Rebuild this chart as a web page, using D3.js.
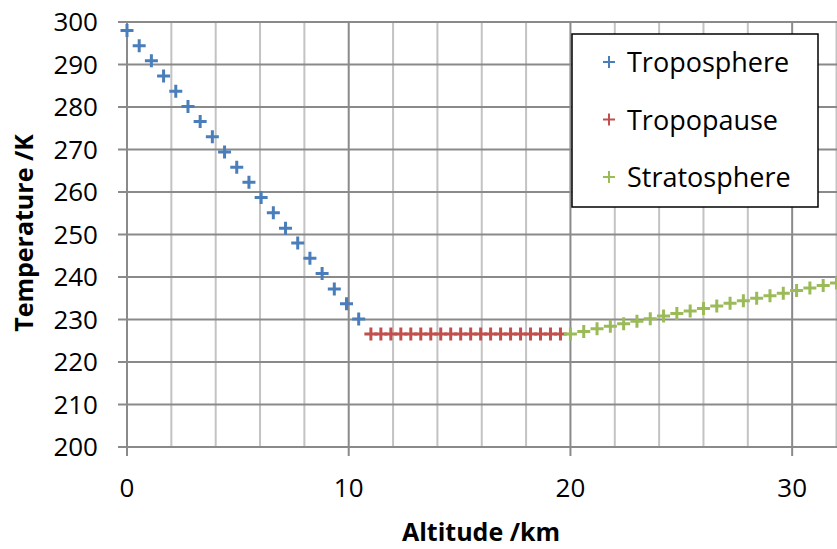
<!DOCTYPE html>
<html>
<head>
<meta charset="utf-8">
<script src="https://cdn.jsdelivr.net/npm/d3@7"></script>
<style>
body { margin: 0; background: white; }
text { font-family: "Open Sans", sans-serif; fill: #000; }
</style>
</head>
<body>
<svg id="chart" width="837" height="549"></svg>
<script>

var seriesNames = ["Troposphere", "Tropopause", "Stratosphere"];
var seriesColors = ["#4a7ebb", "#c0504d", "#9bbb59"];

// altitude in km, temperature in K
var tropoAlt = [0, 0.55, 1.1, 1.65, 2.2, 2.75, 3.3, 3.85, 4.4, 4.95,
                5.5, 6.05, 6.6, 7.15, 7.7, 8.25, 8.8, 9.35, 9.9, 10.45];
var tropoTemp = [298, 294.4, 290.9, 287.3, 283.7, 280.1, 276.6, 273, 269.4, 265.8,
                 262.3, 258.7, 255.1, 251.5, 248, 244.4, 240.8, 237.2, 233.7, 230.1];

var pauseAlt = [11, 11.45, 11.9, 12.35, 12.8, 13.25, 13.7, 14.15, 14.6, 15.05,
                15.5, 15.95, 16.4, 16.85, 17.3, 17.75, 18.2, 18.65, 19.1, 19.55];
var pauseTemp = [226.6, 226.6, 226.6, 226.6, 226.6, 226.6, 226.6, 226.6, 226.6, 226.6,
                 226.6, 226.6, 226.6, 226.6, 226.6, 226.6, 226.6, 226.6, 226.6, 226.6];

var stratoAlt = [20, 20.6, 21.2, 21.8, 22.4, 23, 23.6, 24.2, 24.8, 25.4, 26,
                 26.6, 27.2, 27.8, 28.4, 29, 29.6, 30.2, 30.8, 31.4, 32];
var stratoTemp = [226.6, 227.2, 227.8, 228.4, 229, 229.6, 230.2, 230.8, 231.4, 232, 232.6,
                  233.2, 233.8, 234.4, 235, 235.6, 236.2, 236.8, 237.4, 238, 238.6];

var xMajorTicks = [0, 10, 20, 30];
var xMinorTicks = [2, 4, 6, 8, 12, 14, 16, 18, 22, 24, 26, 28, 32];
var yTicks = [200, 210, 220, 230, 240, 250, 260, 270, 280, 290, 300];

var svg = d3.select("#chart");

var x = d3.scaleLinear().domain([0, 32]).range([127, 836.5]);
var y = d3.scaleLinear().domain([200, 300]).range([447, 22]);

var series = [
    { alt: tropoAlt, temp: tropoTemp },
    { alt: pauseAlt, temp: pauseTemp },
    { alt: stratoAlt, temp: stratoTemp }
];

// gridlines
svg.append("g")
    .selectAll("line")
    .data(xMinorTicks)
    .enter()
    .append("line")
    .attr("x1", function (d) { return x(d) })
    .attr("x2", function (d) { return x(d) })
    .attr("y1", y(300))
    .attr("y2", y(200))
    .style("stroke", "#c3c3c3")
    .style("stroke-width", 2);

svg.append("g")
    .selectAll("line")
    .data(xMajorTicks)
    .enter()
    .append("line")
    .attr("x1", function (d) { return x(d) })
    .attr("x2", function (d) { return x(d) })
    .attr("y1", y(300))
    .attr("y2", y(200) + 9)
    .style("stroke", "#8a8a8a")
    .style("stroke-width", 2);

svg.append("g")
    .selectAll("line")
    .data(yTicks)
    .enter()
    .append("line")
    .attr("x1", 118)
    .attr("x2", 837)
    .attr("y1", function (d) { return y(d) })
    .attr("y2", function (d) { return y(d) })
    .style("stroke", "#8a8a8a")
    .style("stroke-width", 2);

// axes labels
svg.append("g")
    .selectAll("text")
    .data(yTicks)
    .enter()
    .append("text")
    .attr("x", 98)
    .attr("y", function (d) { return y(d) + 9 })
    .attr("text-anchor", "end")
    .style("font-size", "26px")
    .text(function (d) { return d });

svg.append("g")
    .selectAll("text")
    .data(xMajorTicks)
    .enter()
    .append("text")
    .attr("x", function (d) { return x(d) })
    .attr("y", 497)
    .attr("text-anchor", "middle")
    .style("font-size", "26px")
    .text(function (d) { return d });

svg.append("text")
    .attr("x", 481)
    .attr("y", 541)
    .attr("text-anchor", "middle")
    .style("font-size", "25px")
    .style("font-weight", "bold")
    .text("Altitude /km");

svg.append("text")
    .attr("transform", "translate(33,233) rotate(-90)")
    .attr("text-anchor", "middle")
    .style("font-size", "25px")
    .style("font-weight", "bold")
    .text("Temperature /K");

// markers
var plus = "M-6.5,0H6.5M0,-6.5V6.5";

series.forEach(function (s, k) {
    svg.append("g")
        .selectAll("path")
        .data(s.alt)
        .enter()
        .append("path")
        .attr("d", plus)
        .attr("transform", function (d, i) {
            return "translate(" + x(d) + "," + y(s.temp[i]) + ")";
        })
        .style("fill", "none")
        .style("stroke", seriesColors[k])
        .style("stroke-width", 3);
});

// legend
var legend = svg.append("g");

legend.append("rect")
    .attr("x", 572)
    .attr("y", 34)
    .attr("width", 246)
    .attr("height", 173)
    .style("fill", "white")
    .style("stroke", "#000")
    .style("stroke-width", 1.5);

var rows = legend.selectAll(".row")
    .data(seriesNames)
    .enter()
    .append("g")
    .attr("class", "row")
    .attr("transform", function (d, i) { return "translate(0," + (62 + 57.5 * i) + ")" });

rows.append("path")
    .attr("d", "M-6,0H6M0,-6V6")
    .attr("transform", "translate(609,0)")
    .style("stroke", function (d, i) { return seriesColors[i] })
    .style("stroke-width", 2);

rows.append("text")
    .attr("x", 627)
    .attr("y", 10)
    .style("font-size", "27px")
    .text(function (d) { return d });

</script>
</body>
</html>
